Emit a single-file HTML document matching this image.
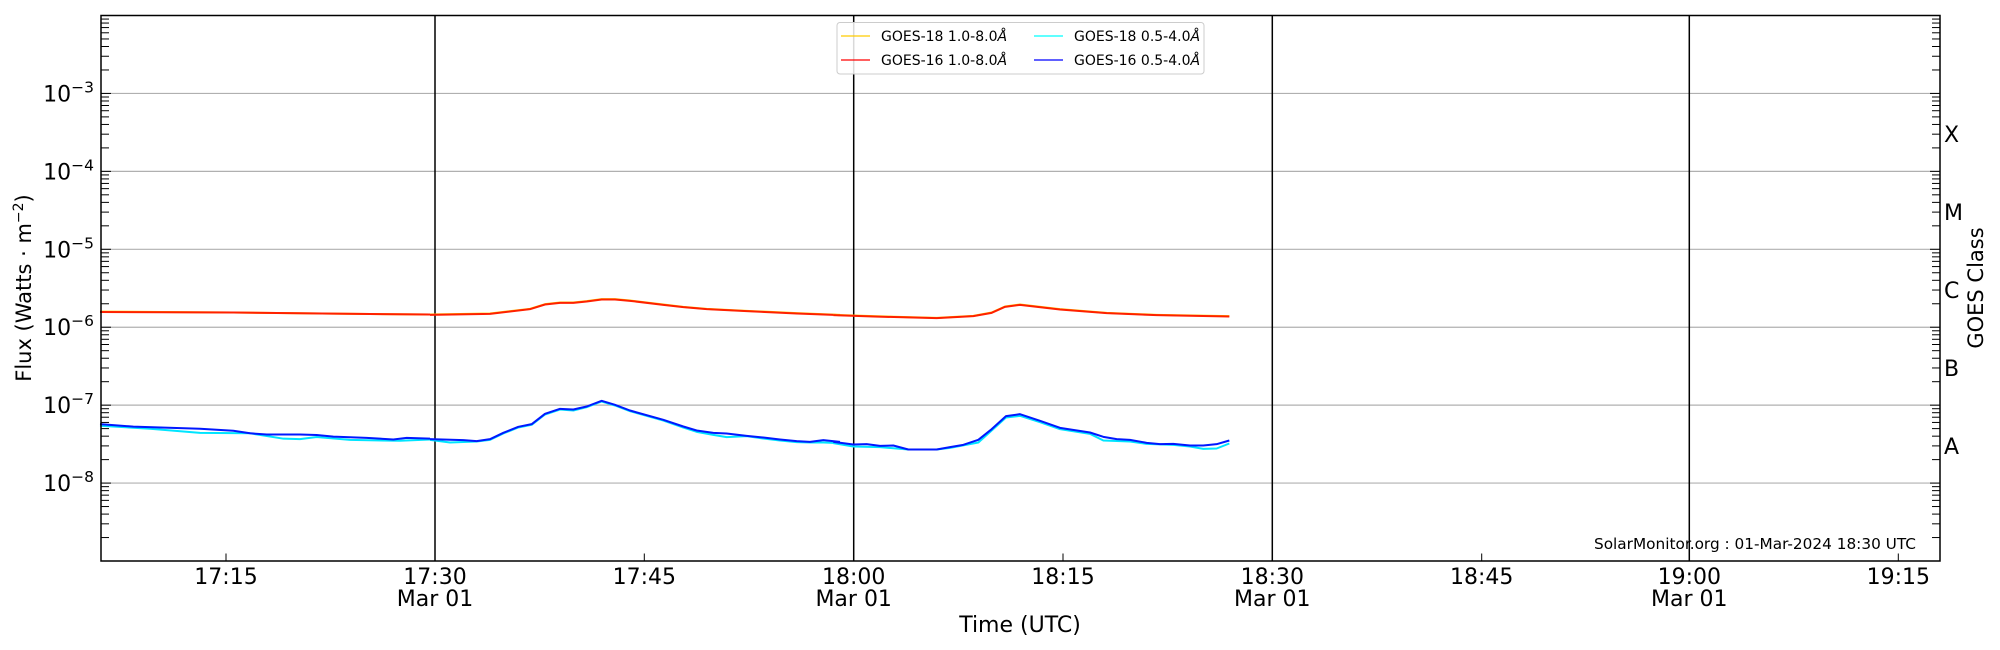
<!DOCTYPE html>
<html><head><meta charset="utf-8"><style>
html,body{margin:0;padding:0;background:#fff;}
svg{display:block;font-family:"DejaVu Sans","Liberation Sans",sans-serif;}
</style></head><body>
<svg id="s" width="2000" height="650" viewBox="0 0 2000 650" xmlns="http://www.w3.org/2000/svg">
<rect width="2000" height="650" fill="#fff"/>
<g id="grid" stroke="#b0b0b0" stroke-width="1.2"></g>
<g stroke="#000" stroke-width="1.5">
<line x1="435" y1="15.5" x2="435" y2="561"/>
<line x1="853.7" y1="15.5" x2="853.7" y2="561"/>
<line x1="1272.3" y1="15.5" x2="1272.3" y2="561"/>
<line x1="1689.3" y1="15.5" x2="1689.3" y2="561"/>
</g>
<g fill="none" stroke-width="2" stroke-linejoin="round" transform="translate(0,-1.5)">
<g transform="translate(0,1.24) scale(0.33333,0.41527)">
<polyline vector-effect="non-scaling-stroke" stroke="#ffcc00" points="300,751 700,753 1000,756 1290,758"/>
<polyline vector-effect="non-scaling-stroke" stroke="#ff2000" points="300,752 700,753 1000,756 1290,758"/>
<polyline vector-effect="non-scaling-stroke" stroke="#00e5ff" points="300,1026 450,1033 600,1043 750,1044 850,1057 900,1058 950,1053 1050,1060 1200,1062 1290,1059"/>
<polyline vector-effect="non-scaling-stroke" stroke="#0018ff" points="300,1022 400,1028 600,1033 700,1038 750,1044 800,1047 900,1047 950,1048 1000,1052 1100,1055 1180,1059 1220,1055 1290,1057"/>
</g>
<g transform="translate(430,272) scale(0.33333,0.33333)">
<polyline vector-effect="non-scaling-stroke" stroke="#ffcc00" points="0,132 180,129 300,115 345,101 390,96 430,96 470,92 515,86 555,86 600,90 700,102 760,109 830,115 950,121 1100,128 1230,133"/>
<polyline vector-effect="non-scaling-stroke" stroke="#ff2000" points="0,133 180,130 300,116 345,102 390,97 430,97 470,93 515,87 555,87 600,91 700,103 760,110 830,116 950,122 1100,129 1230,134"/>
<polyline vector-effect="non-scaling-stroke" stroke="#00e5ff" points="0,508 60,516 140,513 180,508 220,489 265,471 305,463 345,432 390,417 430,420 470,410 515,393 555,405 600,422 700,450 760,471 800,484 850,493 890,500 950,497 1000,504 1050,510 1100,515 1140,516 1180,516 1230,518"/>
<polyline vector-effect="non-scaling-stroke" stroke="#0018ff" points="0,506 100,509 140,512 180,506 220,487 265,469 305,461 345,430 390,415 430,417 470,408 515,391 555,403 600,420 700,448 760,468 800,480 850,487 890,489 950,496 1000,501 1050,507 1100,512 1140,514 1180,509 1230,514"/>
</g>
<g transform="translate(840,272) scale(0.33333,0.33333)">
<polyline vector-effect="non-scaling-stroke" stroke="#ffcc00" points="-20,133 100,137 290,142 400,136 455,126 495,108 540,102 660,116 800,127 950,133 1168,137"/>
<polyline vector-effect="non-scaling-stroke" stroke="#ff2000" points="-20,134 100,138 290,143 400,137 455,127 495,109 540,103 660,117 800,128 950,134 1168,138"/>
<polyline vector-effect="non-scaling-stroke" stroke="#00e5ff" points="-20,518 40,528 120,530 205,537 290,537 330,532 415,516 455,480 498,441 540,436 600,455 660,476 750,490 790,510 870,513 920,520 1000,523 1050,528 1090,535 1130,534 1168,519"/>
<polyline vector-effect="non-scaling-stroke" stroke="#0018ff" points="-20,514 40,522 80,521 120,526 160,525 205,537 290,537 330,530 370,523 415,508 455,476 498,437 540,431 600,451 660,472 750,486 790,499 830,506 870,508 920,517 960,521 1000,520 1050,525 1090,525 1130,521 1168,510"/>
</g>
</g>
<g id="ticks" stroke="#000" stroke-width="1"></g>
<rect x="101" y="15.5" width="1839" height="545.5" fill="none" stroke="#000" stroke-width="1.5"/>
<g id="ylab" font-size="22" fill="#000" text-anchor="end"></g>
<g font-size="22" fill="#000" text-anchor="middle">
<text x="226" y="584">17:15</text>
<text x="435" y="584">17:30</text><text x="435" y="606">Mar 01</text>
<text x="644.3" y="584">17:45</text>
<text x="853.7" y="584">18:00</text><text x="853.7" y="606">Mar 01</text>
<text x="1063" y="584">18:15</text>
<text x="1272.3" y="584">18:30</text><text x="1272.3" y="606">Mar 01</text>
<text x="1481.7" y="584">18:45</text>
<text x="1689.3" y="584">19:00</text><text x="1689.3" y="606">Mar 01</text>
<text x="1898.3" y="584">19:15</text>
<text x="1020" y="632">Time (UTC)</text>
</g>
<text transform="translate(31,288) rotate(-90)" font-size="21" text-anchor="middle">Flux (Watts · m<tspan dy="-8" font-size="14">−2</tspan><tspan dy="8">)</tspan></text>
<text transform="translate(1983,288) rotate(-90)" font-size="21" text-anchor="middle">GOES Class</text>
<g font-size="22" fill="#000">
<text x="1944" y="142">X</text>
<text x="1944" y="220">M</text>
<text x="1944" y="298">C</text>
<text x="1944" y="376">B</text>
<text x="1944" y="454">A</text>
</g>
<text x="1916" y="549" font-size="15.3" text-anchor="end">SolarMonitor.org : 01-Mar-2024 18:30 UTC</text>
<g>
<rect x="837" y="22.5" width="367" height="51.5" rx="3" fill="#fff" fill-opacity="0.85" stroke="#ccc" stroke-width="1"/>
<line x1="841" y1="36" x2="870" y2="36" stroke="#ffcc00" stroke-width="1.3"/>
<line x1="841" y1="60" x2="870" y2="60" stroke="#ff0000" stroke-width="1.3"/>
<line x1="1034" y1="36" x2="1063" y2="36" stroke="#00ffff" stroke-width="1.3"/>
<line x1="1034" y1="60" x2="1063" y2="60" stroke="#0000ff" stroke-width="1.3"/>
<g font-size="14" fill="#000">
<text x="881" y="41">GOES-18 1.0-8.0<tspan font-style="italic">Å</tspan></text>
<text x="881" y="65">GOES-16 1.0-8.0<tspan font-style="italic">Å</tspan></text>
<text x="1074" y="41">GOES-18 0.5-4.0<tspan font-style="italic">Å</tspan></text>
<text x="1074" y="65">GOES-16 0.5-4.0<tspan font-style="italic">Å</tspan></text>
</g>
</g>
</svg>
<script>
(function(){
var NS="http://www.w3.org/2000/svg";
var top=15.5,dec=77.93,L=101,R=1940;
function Y(lg){return top+(-2-lg)*dec;}
function ln(g,x1,y1,x2,y2){var e=document.createElementNS(NS,"line");e.setAttribute("x1",x1);e.setAttribute("y1",y1);e.setAttribute("x2",x2);e.setAttribute("y2",y2);g.appendChild(e);}
var grid=document.getElementById("grid"),tk=document.getElementById("ticks"),yl=document.getElementById("ylab");
for(var p=-8;p<=-3;p++){ln(grid,L,Y(p),R,Y(p));
 var t=document.createElementNS(NS,"text");t.setAttribute("x",94);t.setAttribute("y",Y(p)+8);
 t.innerHTML='10<tspan dy="-9" font-size="15.5">−'+(-p)+'</tspan>';yl.appendChild(t);}
for(var p=-9;p<-2;p++){
 ln(tk,L,Y(p),L+10,Y(p));ln(tk,R-10,Y(p),R,Y(p));
 for(var m=2;m<=9;m++){var y=Y(p+Math.log10(m));ln(tk,L,y,L+8,y);ln(tk,R-8,y,R,y);}
}
var xs=[226,644.3,1063,1481.7,1898.3];
xs.forEach(function(x){ln(tk,x,561,x,553.5);});
})();
</script>
</body></html>
